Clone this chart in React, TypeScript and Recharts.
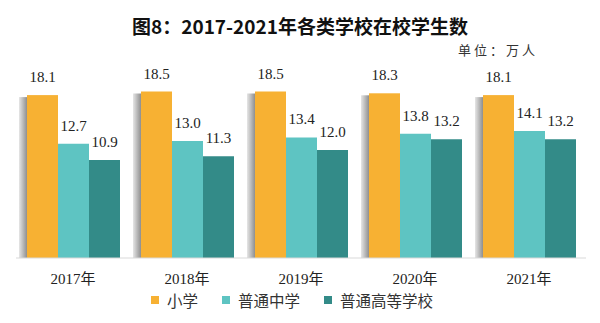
import { Bar, BarChart, LabelList, XAxis, YAxis } from "recharts";

const YEARS = ["2017年", "2018年", "2019年", "2020年", "2021年"];
const PRIMARY = [18.1, 18.5, 18.5, 18.3, 18.1];
const SECONDARY = [12.7, 13.0, 13.4, 13.8, 14.1];
const HIGHER = [10.9, 11.3, 12.0, 13.2, 13.2];

const SERIES = [
  { key: "primary", name: "小学", color: "#F7B133" },
  { key: "secondary", name: "普通中学", color: "#5EC4C2" },
  { key: "higher", name: "普通高等学校", color: "#338B88" },
];

const data = YEARS.map((year, i) => ({
  year,
  primary: PRIMARY[i],
  secondary: SECONDARY[i],
  higher: HIGHER[i],
}));

const SERIF = "'Liberation Serif', 'Times New Roman', 'Noto Sans CJK SC', serif";
const CJK = "'Noto Sans CJK SC', sans-serif";

const LABEL_STYLE = { fill: "#222", fontSize: 15, fontFamily: SERIF };

// first bar of each group carries a soft grey shadow on its left edge
function ShadowBar(props: any) {
  const { x, y, width, height, fill } = props;
  if (height <= 0) return null;
  return (
    <g>
      <rect x={x - 8} y={y + 2} width={8} height={height - 2} fill="url(#barShadow)" />
      <rect x={x} y={y} width={width} height={height} fill={fill} />
    </g>
  );
}

function LegendRow() {
  return (
    <div
      style={{
        position: "absolute",
        top: 289,
        left: 151,
        display: "flex",
        gap: 24,
        fontFamily: CJK,
        fontSize: 15.5,
        color: "#333",
        lineHeight: "22px",
        whiteSpace: "nowrap",
      }}
    >
      {SERIES.map((s) => (
        <span key={s.key} style={{ display: "flex", alignItems: "center", gap: 8 }}>
          <span style={{ width: 8, height: 8, background: s.color, display: "inline-block" }} />
          {s.name}
        </span>
      ))}
    </div>
  );
}

export default function App() {
  return (
    <div style={{ position: "absolute", left: 0, top: 0, width: 600, height: 323, background: "#fff" }}>
      <div
        style={{
          position: "absolute",
          top: 12,
          width: 600,
          textAlign: "center",
          fontFamily: CJK,
          fontWeight: 700,
          fontSize: 19,
          color: "#111",
          lineHeight: "28px",
        }}
      >
        图8：2017-2021年各类学校在校学生数
      </div>
      <div
        style={{
          position: "absolute",
          top: 41,
          left: 458,
          fontFamily: CJK,
          fontSize: 13,
          color: "#333",
          letterSpacing: 3,
          lineHeight: "18px",
        }}
      >
        单位：万人
      </div>
      <BarChart
        width={600}
        height={323}
        data={data}
        margin={{ top: 78, right: 14, bottom: 35, left: 16 }}
        barGap={0}
        barSize={31}
      >
        <defs>
          <linearGradient id="barShadow" x1="0" y1="0" x2="1" y2="0">
            <stop offset="0%" stopColor="#e6e6e6" />
            <stop offset="100%" stopColor="#8f8f8f" />
          </linearGradient>
        </defs>
        <XAxis
          dataKey="year"
          axisLine={{ stroke: "#d9d9d9" }}
          tickLine={false}
          tickMargin={9}
          tick={{ fill: "#222", fontSize: 15, fontFamily: SERIF }}
        />
        <YAxis hide domain={[0, 20]} />
        <Bar dataKey="primary" name="小学" fill={SERIES[0].color} shape={ShadowBar} isAnimationActive={false}>
          <LabelList dataKey="primary" position="top" offset={13} style={LABEL_STYLE} formatter={(v: any) => Number(v).toFixed(1)} />
        </Bar>
        <Bar dataKey="secondary" name="普通中学" fill={SERIES[1].color} isAnimationActive={false}>
          <LabelList dataKey="secondary" position="top" offset={13} style={LABEL_STYLE} formatter={(v: any) => Number(v).toFixed(1)} />
        </Bar>
        <Bar dataKey="higher" name="普通高等学校" fill={SERIES[2].color} isAnimationActive={false}>
          <LabelList dataKey="higher" position="top" offset={13} style={LABEL_STYLE} formatter={(v: any) => Number(v).toFixed(1)} />
        </Bar>
      </BarChart>
      <LegendRow />
    </div>
  );
}
